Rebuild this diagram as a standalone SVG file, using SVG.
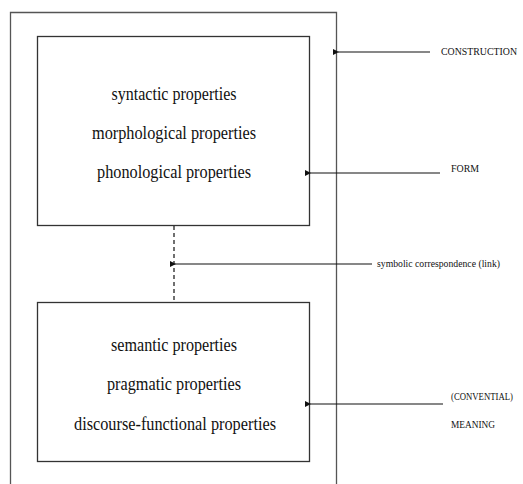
<svg xmlns="http://www.w3.org/2000/svg" width="523" height="484" viewBox="0 0 523 484">
<style>
.box{fill:#fff;stroke:#333;stroke-width:1.3}
.t{font-family:"Liberation Serif","Times New Roman",serif;font-size:18px;fill:#111;text-anchor:middle}
.l{font-family:"Liberation Serif","Times New Roman",serif;font-size:10.5px;fill:#111}
.c{stroke:#111;stroke-width:1.2;fill:none}
</style>
<defs>
<marker id="ah" markerWidth="6" markerHeight="6" refX="1" refY="3" orient="auto" markerUnits="userSpaceOnUse">
<path d="M6,0 L0,3 L6,6 z" fill="#111"/>
</marker>
</defs>
<rect width="523" height="484" fill="#fff"/>
<g id="construction">
<path d="M10.5,484 V12.5 H336.5 V484" fill="none" stroke="#555" stroke-width="1.3"/>
</g>
<g id="form">
<rect class="box" x="37.5" y="36.5" width="272" height="189"/>
<text class="t" x="174" y="100" textLength="125" lengthAdjust="spacingAndGlyphs">syntactic properties</text>
<text class="t" x="174" y="139" textLength="164" lengthAdjust="spacingAndGlyphs">morphological properties</text>
<text class="t" x="174" y="178" textLength="154" lengthAdjust="spacingAndGlyphs">phonological properties</text>
</g>
<g id="meaning">
<rect class="box" x="37.5" y="302.5" width="272" height="159"/>
<text class="t" x="174" y="351" textLength="126" lengthAdjust="spacingAndGlyphs">semantic properties</text>
<text class="t" x="174" y="390" textLength="134" lengthAdjust="spacingAndGlyphs">pragmatic properties</text>
<text class="t" x="175" y="430" textLength="202" lengthAdjust="spacingAndGlyphs">discourse-functional properties</text>
</g>
<g id="labels">
<text class="l" x="441" y="55" textLength="76" lengthAdjust="spacingAndGlyphs">CONSTRUCTION</text>
<text class="l" x="451" y="172" textLength="28" lengthAdjust="spacingAndGlyphs">FORM</text>
<text class="l" x="377" y="267" textLength="123" lengthAdjust="spacingAndGlyphs">symbolic correspondence (link)</text>
<text class="l" x="451" y="400" textLength="62" lengthAdjust="spacingAndGlyphs">(CONVENTIAL)</text>
<text class="l" x="451" y="428" textLength="44" lengthAdjust="spacingAndGlyphs">MEANING</text>
</g>
<g id="connectors">
<line class="c" x1="174" y1="226" x2="174" y2="302" stroke-dasharray="4,3"/>
<line class="c" x1="430" y1="52" x2="338" y2="52" marker-end="url(#ah)"/>
<line class="c" x1="440" y1="173" x2="310" y2="173" marker-end="url(#ah)"/>
<line class="c" x1="372" y1="264" x2="175" y2="264" marker-end="url(#ah)"/>
<line class="c" x1="443" y1="404" x2="310" y2="404" marker-end="url(#ah)"/>
</g>
</svg>
